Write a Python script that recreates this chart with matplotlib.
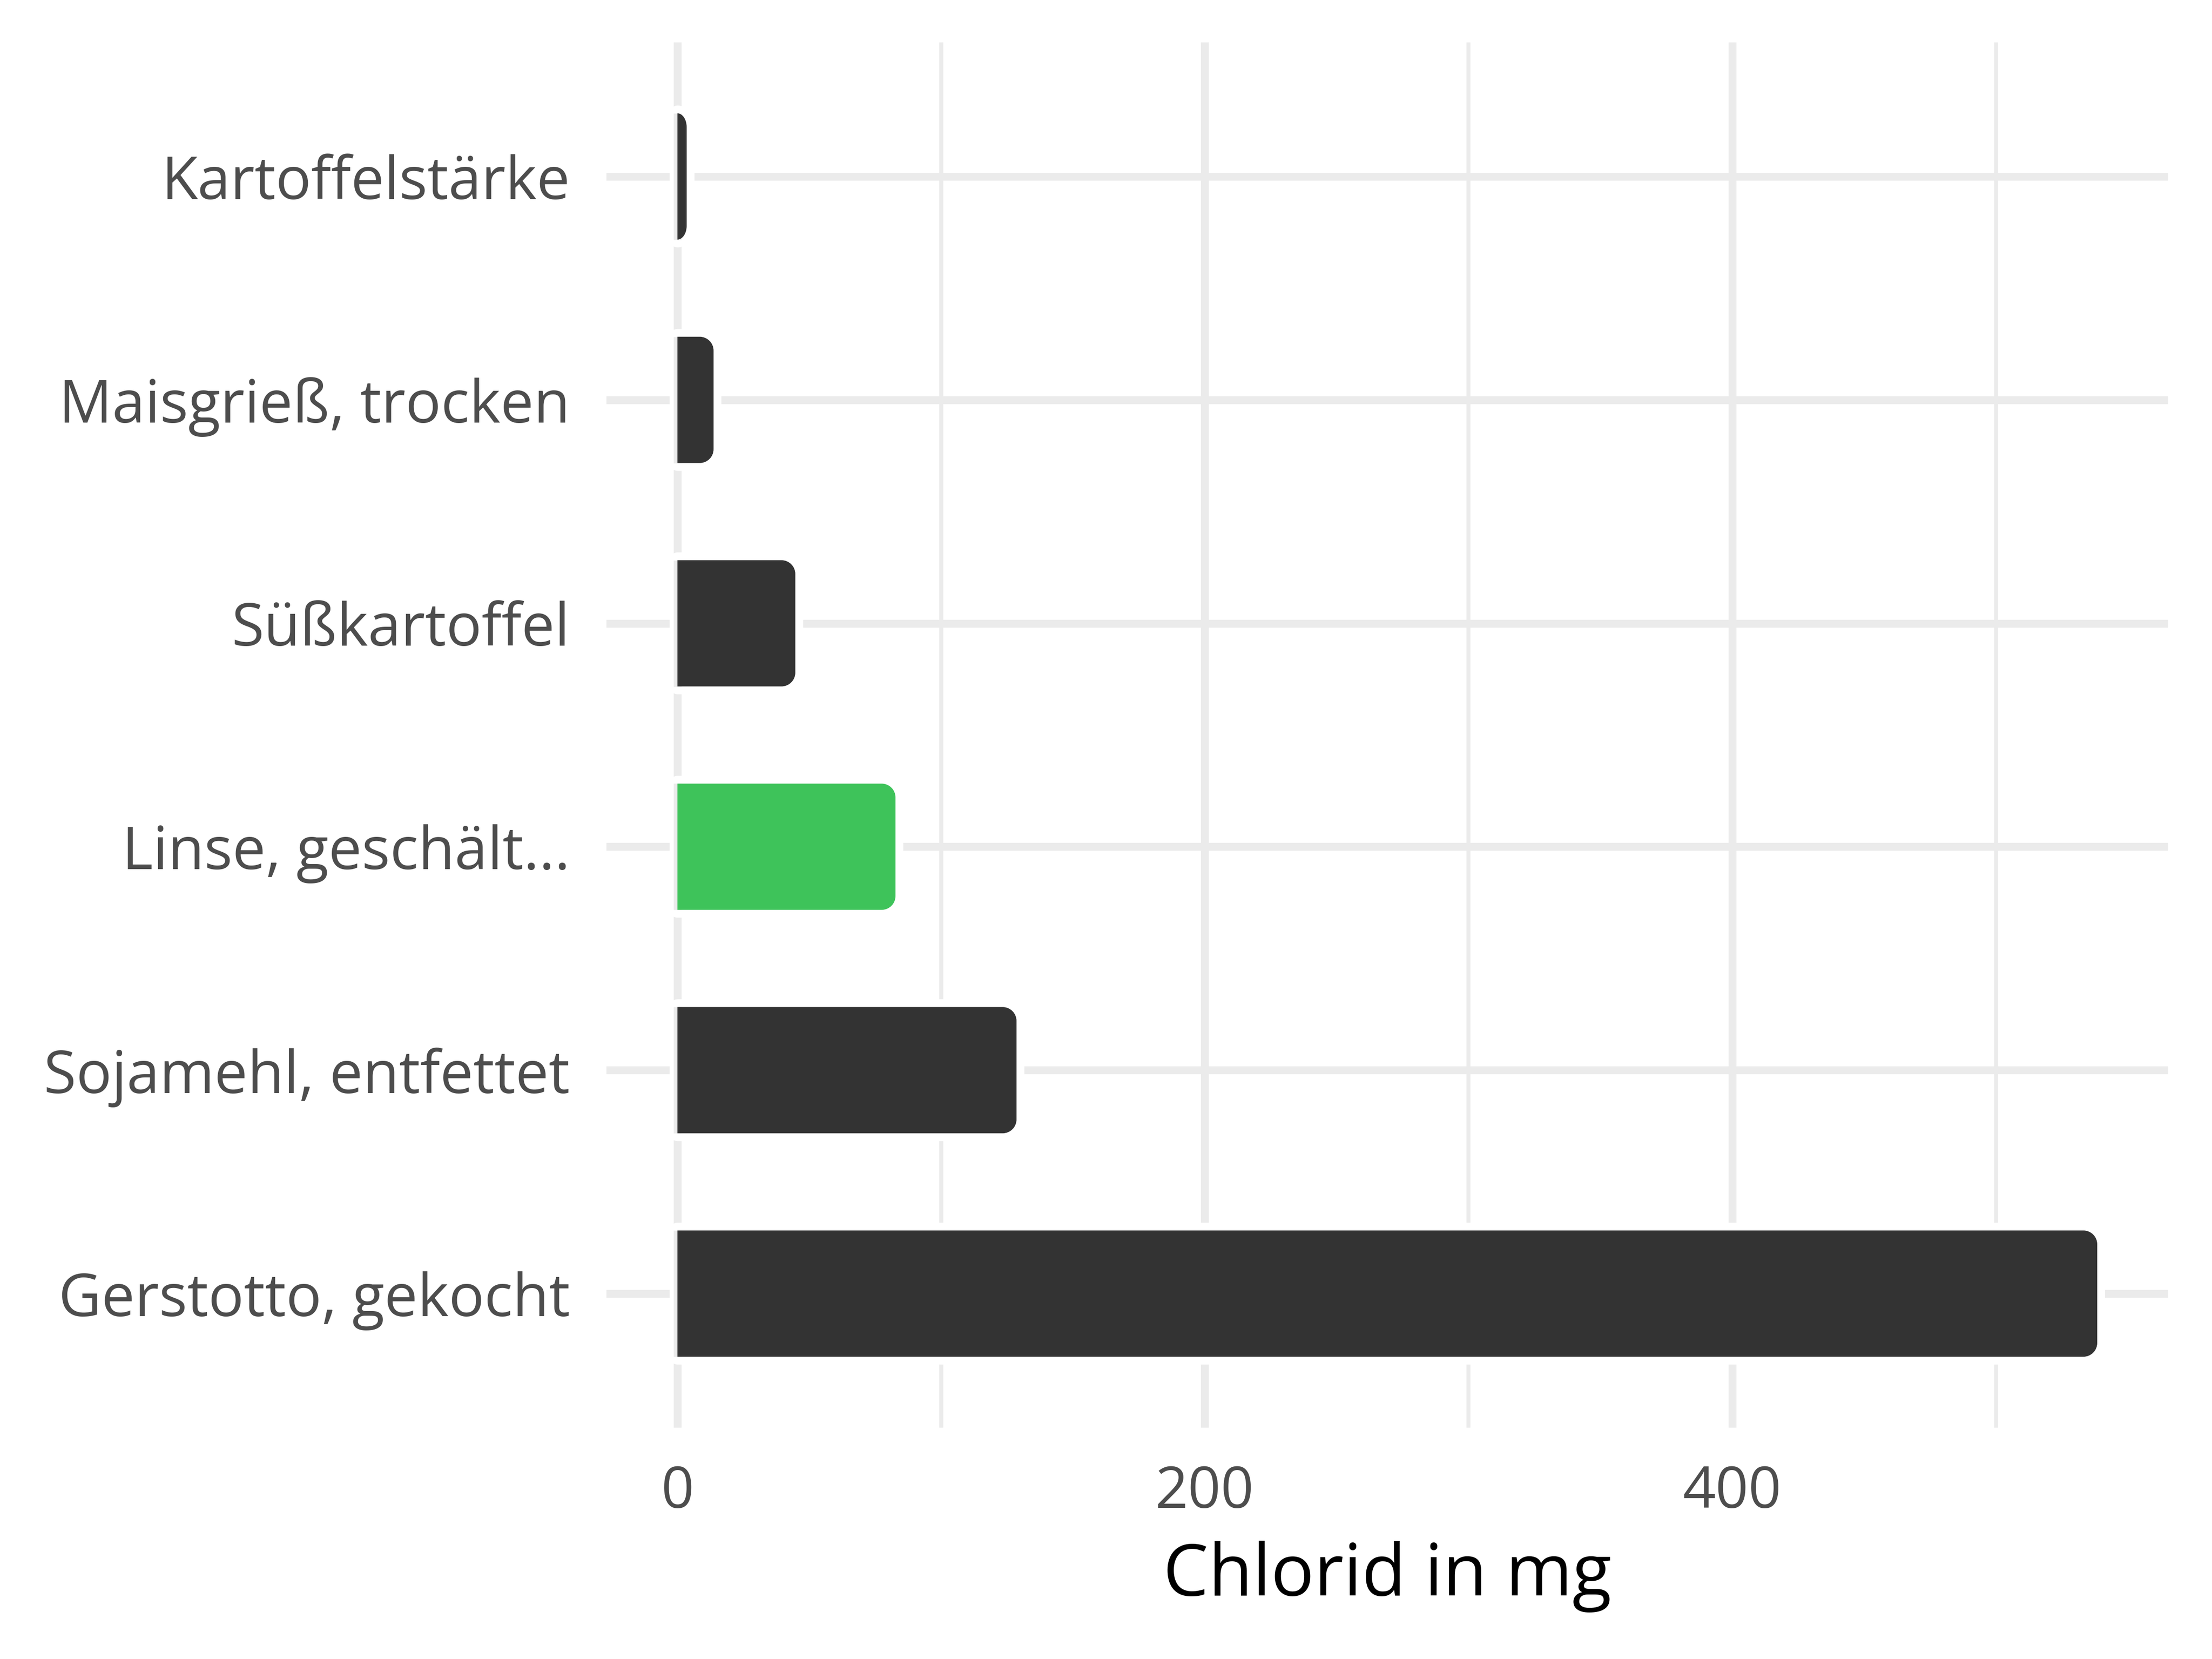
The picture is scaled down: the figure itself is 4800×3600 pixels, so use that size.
import matplotlib
matplotlib.use("Agg")
import matplotlib.pyplot as plt
from matplotlib.path import Path
from matplotlib.patches import PathPatch

plt.rcParams['font.family'] = ['Open Sans', 'DejaVu Sans']

categories = ["Gerstotto, gekocht", "Sojamehl, entfettet", "Linse, geschält...",
              "Süßkartoffel", "Maisgrieß, trocken", "Kartoffelstärke"]
values = [538.5, 128.6, 82.7, 44.7, 13.7, 3.5]
colors = ["#333333", "#333333", "#3EC35A", "#333333", "#333333", "#333333"]
major_ticks = [0, 200, 400]
minor_ticks = [100, 300, 500]
xlabel = "Chlorid in mg"

W, H, DPI = 16, 12, 300
fig = plt.figure(figsize=(W, H), dpi=DPI)
left, right, bottom, top = 1316/4800, 4705/4800, 1 - 3098/3600, 1 - 92/3600
ax = fig.add_axes([left, bottom, right - left, top - bottom])

xmin, xmax = -0.05 * max(values), 1.05 * max(values)
n = len(categories)
ymin, ymax = 0.4, n + 0.6
ax.set_xlim(xmin, xmax)
ax.set_ylim(ymin, ymax)

grid_c = "#EBEBEB"
ax.set_xticks(major_ticks)
ax.set_xticks(minor_ticks, minor=True)
ypos = list(range(1, n + 1))
ax.set_yticks(ypos)
ax.set_yticklabels(categories)
ax.grid(True, which='major', color=grid_c, linewidth=4.1, zorder=0)
ax.grid(True, which='minor', axis='x', color=grid_c, linewidth=2.05, zorder=0)
ax.set_axisbelow(True)
for s in ax.spines.values():
    s.set_visible(False)
ax.tick_params(axis='both', which='both', length=0)
ax.tick_params(axis='y', labelsize=30.8, labelcolor="#4D4D4D", pad=19)
ax.tick_params(axis='x', labelsize=30, labelcolor="#4D4D4D", pad=19)
ax.set_xlabel(xlabel, fontsize=37.5, color="black", labelpad=10)

px_x = W * DPI * (right - left) / (xmax - xmin)
px_y = H * DPI * (top - bottom) / (ymax - ymin)
r_px = 30
bar_h = 0.565
k = 0.5523

def bar_path(v, c):
    rx = min(r_px / px_x, v)
    ry = r_px / px_y
    x0, x1 = 0, v
    y0, y1 = c - bar_h / 2, c + bar_h / 2
    verts = [(x0, y0), (x1 - rx, y0),
             (x1 - rx + k * rx, y0), (x1, y0 + ry - k * ry), (x1, y0 + ry),
             (x1, y1 - ry),
             (x1, y1 - ry + k * ry), (x1 - rx + k * rx, y1), (x1 - rx, y1),
             (x0, y1), (x0, y0)]
    codes = [Path.MOVETO, Path.LINETO,
             Path.CURVE4, Path.CURVE4, Path.CURVE4,
             Path.LINETO,
             Path.CURVE4, Path.CURVE4, Path.CURVE4,
             Path.LINETO, Path.CLOSEPOLY]
    return Path(verts, codes)

for v, c, col in zip(values, ypos, colors):
    p = bar_path(v, c)
    ax.add_patch(PathPatch(p, facecolor="white", edgecolor="white",
                           linewidth=34 * 72 / DPI, joinstyle='round', zorder=1.5))
    ax.plot([0, 0], [c - bar_h / 2, c + bar_h / 2], color=grid_c,
            linewidth=4.1, zorder=1.7, solid_capstyle='butt')
    ax.add_patch(PathPatch(p, facecolor=col, edgecolor='none', zorder=2))

fig.savefig("out.png", dpi=DPI, facecolor="white")
